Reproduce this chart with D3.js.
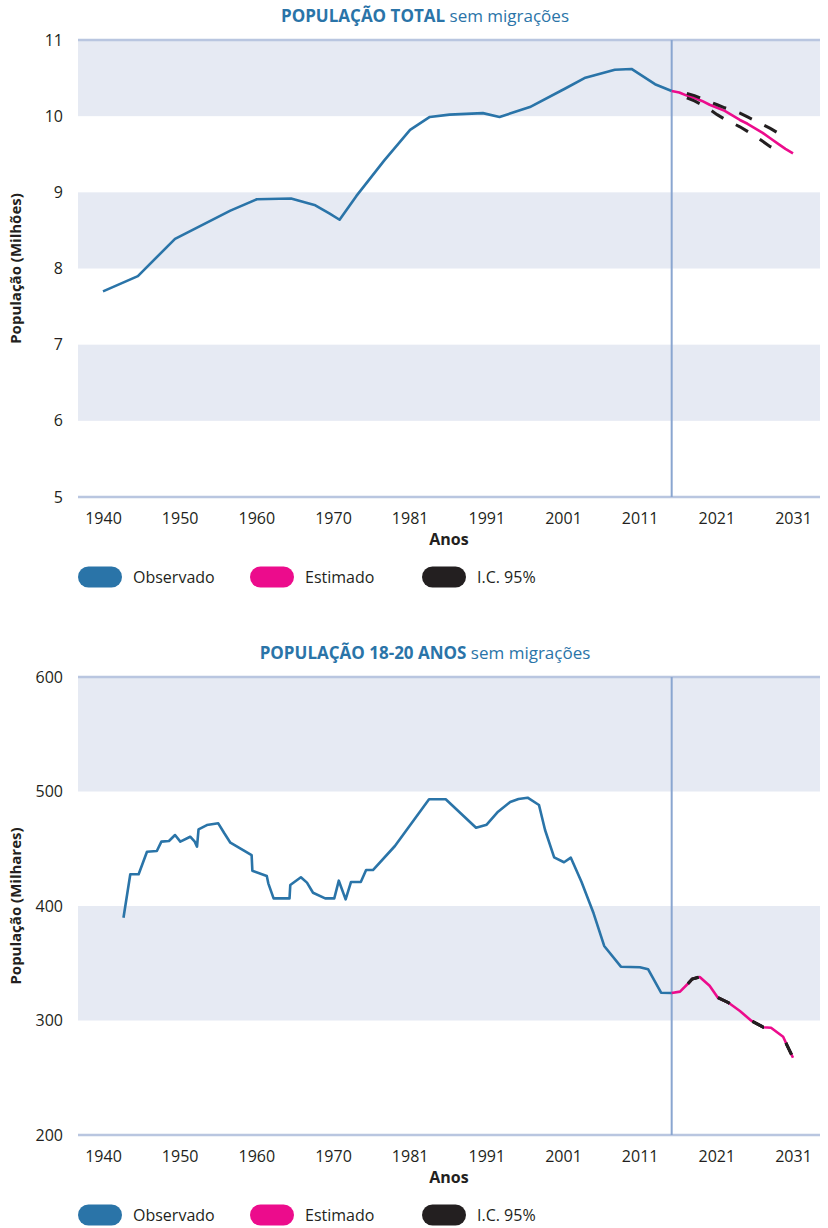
<!DOCTYPE html>
<html>
<head>
<meta charset="utf-8">
<script src="https://cdn.jsdelivr.net/npm/d3@7"></script>
<style>
  body { margin: 0; background: #fff; }
  text { font-family: "Open Sans", sans-serif; fill: #231f20; }
</style>
</head>
<body>
<div id="chart"></div>
<script>
// eixo X (comum aos dois graficos)
const tickLabels = ['1940','1950','1960','1970','1981','1991','2001','2011','2021','2031'];
const cutYear = 2015;

// ---- Populacao total (milhoes) ----
const obsYears1 = [1940,1944.6,1949.5,1956.8,1960.3,1964.8,1968,1969.9,1971.2,1973.4,1977.1,1980.5,1983.1,1985.7,1990.1,1992.3,1996.3,2000.9,2003.5,2007.5,2009.7,2012.8,2015];
const obsValues1 = [7.70,7.90,8.39,8.76,8.91,8.92,8.83,8.72,8.64,8.95,9.42,9.82,9.99,10.02,10.04,9.99,10.12,10.36,10.50,10.61,10.62,10.42,10.33];
const estYears1 = [2015,2016,2017,2018,2019,2020,2021,2022,2023,2024,2025,2026,2027,2028,2029,2030,2031];
const estValues1 = [10.33,10.31,10.27,10.24,10.20,10.15,10.11,10.07,10.01,9.95,9.90,9.84,9.78,9.71,9.64,9.57,9.51];
const ciYears1 = [2017,2018,2019,2020,2021,2022,2023,2024,2025,2026,2027,2028,2029];
const ciUpper1 = [10.30,10.27,10.23,10.19,10.15,10.11,10.08,10.04,9.99,9.94,9.89,9.84,9.78];
const ciLower1 = [10.24,10.20,10.15,10.09,10.02,9.96,9.91,9.86,9.80,9.74,9.67,9.60,9.55];
const yTicks1 = [5,6,7,8,9,10,11];
const bands1 = [[10,11],[8,9],[6,7]];

// ---- Populacao 18-20 anos (milhares) ----
const obsYears2 = [1942.7,1943.6,1944.7,1945.8,1947.1,1947.7,1948.7,1949.5,1950.2,1951.5,1952.1,1952.4,1952.6,1953.7,1955.2,1956.0,1956.8,1959.6,1959.7,1961.6,1961.8,1962.5,1964.6,1964.7,1966.1,1966.9,1967.7,1969.3,1970.5,1971.1,1972.0,1972.7,1974.0,1974.7,1975.6,1978.5,1983.0,1985.2,1989.2,1990.6,1992.1,1993.7,1994.8,1996.0,1997.5,1998.3,1999.5,2000.8,2001.7,2003.1,2004.7,2006.1,2008.3,2010.8,2011.9,2013.6,2015];
const obsValues2 = [389.8,427.7,427.7,447.4,448.0,456.2,456.8,462.0,456.2,460.5,456.2,451.8,467.0,470.7,472.2,463.5,455.3,444.5,430.8,426.2,419.8,406.7,406.7,418.3,425.1,420.4,411.6,406.7,406.7,422.1,405.8,420.9,420.9,431.4,431.4,452.4,493.2,493.2,468.4,471.0,482.4,490.8,493.4,494.6,488.2,466.4,442.5,438.2,442.2,421.2,393.6,365.1,347.0,346.5,344.7,324.3,324.0];
const estYears2 = [2015,2016.1,2017.2,2017.7,2018.7,2020.0,2021.1,2022.5,2024.0,2025.5,2027.1,2028.1,2029.7,2030.2,2031];
const estValues2 = [324.0,325.2,332.5,336.2,338.0,330.4,319.9,315.5,308.3,299.8,294.1,293.7,285.8,278.6,267.5];
const ciUpper2 = [324.0,325.2,332.5,336.2,338.0,330.4,319.9,315.5,308.3,299.8,294.1,293.7,285.8,278.6,267.5];
const ciLower2 = [324.0,325.2,332.5,336.2,338.0,330.4,319.9,315.5,308.3,299.8,294.1,293.7,285.8,278.6,267.5];
const yTicks2 = [200,300,400,500,600];
const bands2 = [[500,600],[300,400]];

const legendLabels = ['Observado','Estimado','I.C. 95%'];
const colors = { obs: '#2a74a8', est: '#ec0c8c', ci: '#231f20', band: '#e6eaf3', rule: '#b9c6e0', cut: '#8aa6d0', title: '#2a74a8' };

const W = 828, H = 1228;
const svg = d3.select('#chart').append('svg').attr('width', W).attr('height', H);

const x = d3.scaleLinear().domain([1940, 2031]).range([103, 793]);
const plotLeft = 78, plotRight = 820;
const tickPos = tickLabels.map((d, i) => 1940 + i * 91 / 9);

function drawChart(cfg) {
  const g = svg.append('g');
  const y = d3.scaleLinear().domain(cfg.domain).range([cfg.bottom, cfg.top]);

  // faixas
  g.selectAll('rect.band').data(cfg.bands).enter().append('rect')
    .attr('x', plotLeft).attr('width', plotRight - plotLeft)
    .attr('y', d => y(d[1])).attr('height', d => y(d[0]) - y(d[1]))
    .attr('fill', colors.band);

  g.append('line').attr('x1', plotLeft).attr('x2', plotRight)
    .attr('y1', y(cfg.domain[1])).attr('y2', y(cfg.domain[1]))
    .attr('stroke', colors.rule).attr('stroke-width', 2.5);
  g.append('line').attr('x1', plotLeft).attr('x2', plotRight)
    .attr('y1', y(cfg.domain[0])).attr('y2', y(cfg.domain[0]))
    .attr('stroke', colors.rule).attr('stroke-width', 2.5);

  // eixo Y
  const yAxis = d3.axisLeft(y).tickValues(cfg.yTicks).tickFormat(d3.format('d')).tickSize(0).tickPadding(15);
  g.append('g').attr('transform', 'translate(' + plotLeft + ',0)').call(yAxis)
    .call(a => a.select('.domain').remove())
    .selectAll('text').style('font-size', '16px').attr('fill', '#231f20');

  // eixo X
  const xAxis = d3.axisBottom(x).tickValues(tickPos).tickFormat((d, i) => tickLabels[i]).tickSize(0).tickPadding(16);
  g.append('g').attr('transform', 'translate(0,' + cfg.bottom + ')').call(xAxis)
    .call(a => a.select('.domain').remove())
    .selectAll('text').style('font-size', '16px').attr('fill', '#231f20');

  // linha vertical
  g.append('line').attr('x1', x(cutYear)).attr('x2', x(cutYear))
    .attr('y1', cfg.top).attr('y2', cfg.bottom)
    .attr('stroke', colors.cut).attr('stroke-width', 2);

  const line = d3.line().x(d => x(d[0])).y(d => y(d[1]));

  g.append('path').datum(d3.zip(cfg.obsYears, cfg.obsValues))
    .attr('d', line).attr('fill', 'none').attr('stroke', colors.obs)
    .attr('stroke-width', 2.6).attr('stroke-linejoin', 'round');

  g.append('path').datum(d3.zip(cfg.estYears, cfg.estValues))
    .attr('d', line).attr('fill', 'none').attr('stroke', colors.est)
    .attr('stroke-width', 2.6).attr('stroke-linejoin', 'round');

  [cfg.ciUpper, cfg.ciLower].forEach(vals => {
    g.append('path').datum(d3.zip(cfg.ciYears, vals))
      .attr('d', line).attr('fill', 'none').attr('stroke', colors.ci)
      .attr('stroke-width', 3)
      .attr('stroke-dasharray', cfg.dash).attr('stroke-dashoffset', cfg.dashOffset);
  });

  // titulos
  const t = g.append('text').attr('x', 425).attr('y', cfg.top - 18)
    .attr('text-anchor', 'middle').style('font-size', '17px');
  t.append('tspan').text(cfg.titleBold).attr('font-weight', 'bold').attr('fill', colors.title);
  t.append('tspan').text(' sem migrações').attr('fill', colors.title);

  g.append('text').attr('transform', 'translate(21,' + ((cfg.top + cfg.bottom) / 2) + ') rotate(-90)')
    .attr('text-anchor', 'middle').style('font-size', '15px').attr('font-weight', 'bold')
    .text(cfg.yLabel);

  g.append('text').attr('x', (plotLeft + plotRight) / 2).attr('y', cfg.bottom + 48)
    .attr('text-anchor', 'middle').style('font-size', '16px').attr('font-weight', 'bold')
    .text('Anos');

  // legenda
  const legColors = [colors.obs, colors.est, colors.ci];
  const lg = g.selectAll('g.leg').data(legendLabels).enter().append('g')
    .attr('transform', (d, i) => 'translate(' + (78 + i * 172) + ',' + (cfg.bottom + 80) + ')');
  lg.append('rect').attr('x', 0).attr('y', -10.5).attr('width', 44).attr('height', 21)
    .attr('rx', 10.5).attr('fill', (d, i) => legColors[i]);
  lg.append('text').attr('x', 55).attr('dy', '0.35em').style('font-size', '16px').text(d => d);
}

drawChart({
  top: 40, bottom: 497, domain: [5, 11], yTicks: yTicks1, bands: bands1,
  obsYears: obsYears1, obsValues: obsValues1, estYears: estYears1, estValues: estValues1,
  ciYears: ciYears1, ciUpper: ciUpper1, ciLower: ciLower1, dash: '14,14', dashOffset: 0,
  titleBold: 'POPULAÇÃO TOTAL', yLabel: 'População (Milhões)'
});

drawChart({
  top: 677, bottom: 1135, domain: [200, 600], yTicks: yTicks2, bands: bands2,
  obsYears: obsYears2, obsValues: obsValues2, estYears: estYears2, estValues: estValues2,
  ciYears: estYears2, ciUpper: ciUpper2, ciLower: ciLower2, dash: '13,29', dashOffset: 22.4,
  titleBold: 'POPULAÇÃO 18-20 ANOS', yLabel: 'População (Milhares)'
});
</script>
</body>
</html>
